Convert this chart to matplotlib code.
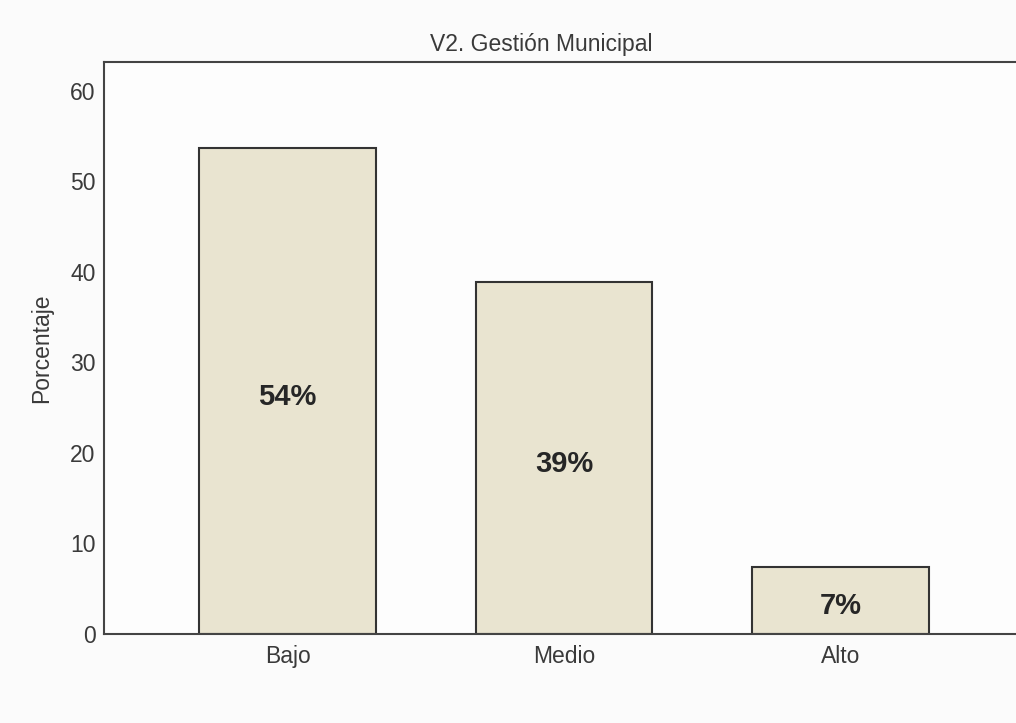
import matplotlib
matplotlib.use("Agg")
import matplotlib.pyplot as plt

categories = ["Bajo", "Medio", "Alto"]
values = [53.7, 38.9, 7.4]
labels = ["54%", "39%", "7%"]
yticks = [0, 10, 20, 30, 40, 50, 60]

plt.rcParams['font.family'] = ['Liberation Sans', 'DejaVu Sans']

W, H = 1016, 723
fig = plt.figure(figsize=(W / 100, H / 100), dpi=100, facecolor='#fbfbfb')
ax = fig.add_axes([104 / W, 1 - 634 / H, 920 / W, (634 - 62) / H])
ax.set_facecolor('#fdfdfd')

x = list(range(len(categories)))
bars = ax.bar(x, values, width=0.64, color='#e9e4d0', edgecolor='#333333', linewidth=1.5, zorder=2)
for xi, v, lab in zip(x, values, labels):
    ax.annotate(lab, (xi, v / 2), xytext=(0, -4), textcoords='offset points',
                ha='center', va='center', fontsize=21, fontweight='bold', color='#262626', zorder=3)

ax.set_xlim(-0.664, 2.664)
ax.set_ylim(0, 63.2)
ax.set_xticks(x)
ax.set_xticklabels(categories)
ax.set_yticks(yticks)
ax.tick_params(axis='both', length=0, labelsize=16.5, labelcolor='#3a3a3a')
ax.tick_params(axis='y', pad=6)
ax.tick_params(axis='x', pad=8)
for s in ['left', 'top', 'bottom']:
    ax.spines[s].set_color('#444444')
    ax.spines[s].set_linewidth(1.5)
ax.spines['right'].set_visible(False)
ax.set_ylabel('Porcentaje', fontsize=16.5, color='#3a3a3a', labelpad=12)

fig.text(541 / W, 1 - 45 / H, 'V2. Gestión Municipal', ha='center', va='center', fontsize=16.5, color='#3a3a3a')

fig.savefig('out.png', dpi=100, facecolor=fig.get_facecolor())
